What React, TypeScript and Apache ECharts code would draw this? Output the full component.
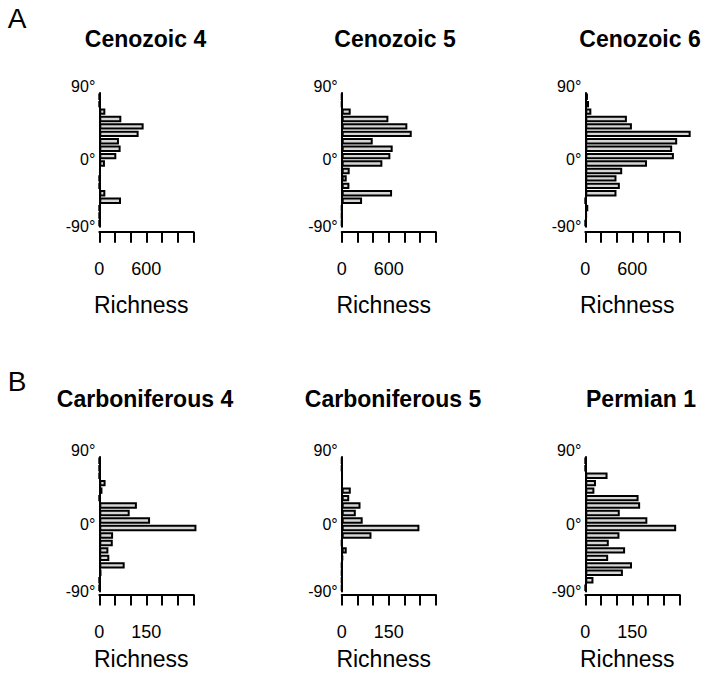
import React, { useEffect, useRef } from 'react';
import * as echarts from 'echarts';

// Latitude bins (bin centres, 10° wide), from north (top) to south (bottom)
const latBins = ['85', '75', '65', '55', '45', '35', '25', '15', '5', '-5', '-15', '-25', '-35', '-45', '-55', '-65', '-75', '-85'];

// Panel titles
const titlesA = ['Cenozoic 4', 'Cenozoic 5', 'Cenozoic 6'];
const titlesB = ['Carboniferous 4', 'Carboniferous 5', 'Permian 1'];

// Richness per latitude bin
const cenozoic4 = [0, 0, 77, 281, 566, 502, 251, 272, 217, 72, 17, 0, 0, 77, 277, 0, 0, 0];
const cenozoic5 = [0, 0, 115, 596, 838, 894, 396, 651, 621, 519, 102, 64, 98, 643, 260, 0, 0, 0];
const cenozoic6 = [34, 47, 77, 531, 595, 1345, 1173, 1109, 1131, 788, 471, 398, 441, 398, 0, 38, 21, 0];
const carboniferous4 = [0, 0, 0, 20, 10, 0, 120, 97, 162, 310, 44, 43, 29, 32, 81, 7, 0, 0];
const carboniferous5 = [0, 0, 2, 2, 29, 24, 60, 45, 67, 248, 95, 0, 16, 4, 0, 0, 0, 0];
const permian1 = [0, 0, 71, 34, 29, 170, 175, 110, 198, 290, 109, 75, 127, 73, 149, 120, 26, 0];

// Axis scales
const xMaxA = 1200;
const xStepA = 200;
const xLabelA = [0, 600];
const xMaxB = 300;
const xStepB = 50;
const xLabelB = [0, 150];
const yTicks = [-90, 0, 90];

const FONT = '"Liberation Sans", Arial, Helvetica, sans-serif';

export default function App() {
  const ref = useRef<HTMLDivElement>(null);

  useEffect(() => {
    if (!ref.current) return;
    const chart = echarts.init(ref.current, null, { renderer: 'svg' });

    const axisXs = [99.3, 341.7, 585.3];
    const plotW = 94;
    const rows = [
      { titles: titlesA, data: [cenozoic4, cenozoic5, cenozoic6], max: xMaxA, step: xStepA, labels: xLabelA, top: 93, h: 133.7, off: 5, titleY: 39, titleXs: [145.5, 395, 640], richY: 305, letter: 'A', letterY: 18 },
      { titles: titlesB, data: [carboniferous4, carboniferous5, permian1], max: xMaxB, step: xStepB, labels: xLabelB, top: 457, h: 134.5, off: 3, titleY: 399, titleXs: [145, 393, 641], richY: 659, letter: 'B', letterY: 381 },
    ];

    const grid: any[] = [];
    const xAxis: any[] = [];
    const yAxis: any[] = [];
    const series: any[] = [];
    const graphic: any[] = [];

    rows.forEach((row) => {
      graphic.push({
        type: 'text', x: 17, y: row.letterY,
        style: { text: row.letter, font: `28px ${FONT}`, fill: '#000', align: 'center', verticalAlign: 'middle' },
      });
      row.data.forEach((vals, c) => {
        const gi = grid.length;
        grid.push({ left: axisXs[c], top: row.top, width: plotW, height: row.h, containLabel: false });
        xAxis.push({
          type: 'value', gridIndex: gi, min: 0, max: row.max, interval: row.step,
          position: 'bottom', offset: row.off,
          axisLine: { show: true, onZero: false, lineStyle: { color: '#000', width: 2 } },
          axisTick: { show: true, inside: false, length: 11, lineStyle: { color: '#000', width: 2 } },
          splitLine: { show: false },
          axisLabel: {
            show: true, margin: 28, fontSize: 18, color: '#000', fontFamily: FONT,
            formatter: (v: number) => (row.labels.includes(v) ? String(v) : ''),
          },
        });
        const yCat = yAxis.length;
        yAxis.push({
          type: 'category', gridIndex: gi, data: latBins, inverse: true, show: false,
          boundaryGap: true,
        });
        yAxis.push({
          type: 'value', gridIndex: gi, min: -90, max: 90, interval: 90, position: 'left',
          axisLine: { show: true, onZero: false, lineStyle: { color: '#000', width: 2 } },
          axisTick: { show: false },
          splitLine: { show: false },
          axisLabel: {
            show: true, margin: 4, fontSize: 16, color: '#000', fontFamily: FONT,
            formatter: (v: number) => (yTicks.includes(v) ? (v === 90 ? `{t|${v}°}` : `${v}°`) : ''),
            rich: { t: { fontSize: 16, fontFamily: FONT, color: '#000', padding: [0, 0, 14, 0] } },
          },
        });
        series.push({
          type: 'bar', xAxisIndex: gi, yAxisIndex: yCat, data: vals,
          barCategoryGap: '14%', clip: false,
          itemStyle: { color: '#d6d6d6', borderColor: '#000', borderWidth: 2 },
          silent: true,
        });
        graphic.push({
          type: 'text', x: row.titleXs[c], y: row.titleY,
          style: { text: row.titles[c], font: `bold 23px ${FONT}`, fill: '#000', align: 'center', verticalAlign: 'middle' },
        });
        graphic.push({
          type: 'text', x: axisXs[c] + plotW / 2 - 5, y: row.richY,
          style: { text: 'Richness', font: `23px ${FONT}`, fill: '#000', align: 'center', verticalAlign: 'middle' },
        });
      });
    });

    chart.setOption({
      animation: false,
      backgroundColor: '#fff',
      grid, xAxis, yAxis, series, graphic,
    });

    return () => chart.dispose();
  }, []);

  return <div ref={ref} style={{ position: 'absolute', left: 0, top: 0, width: 701, height: 674 }} />;
}
